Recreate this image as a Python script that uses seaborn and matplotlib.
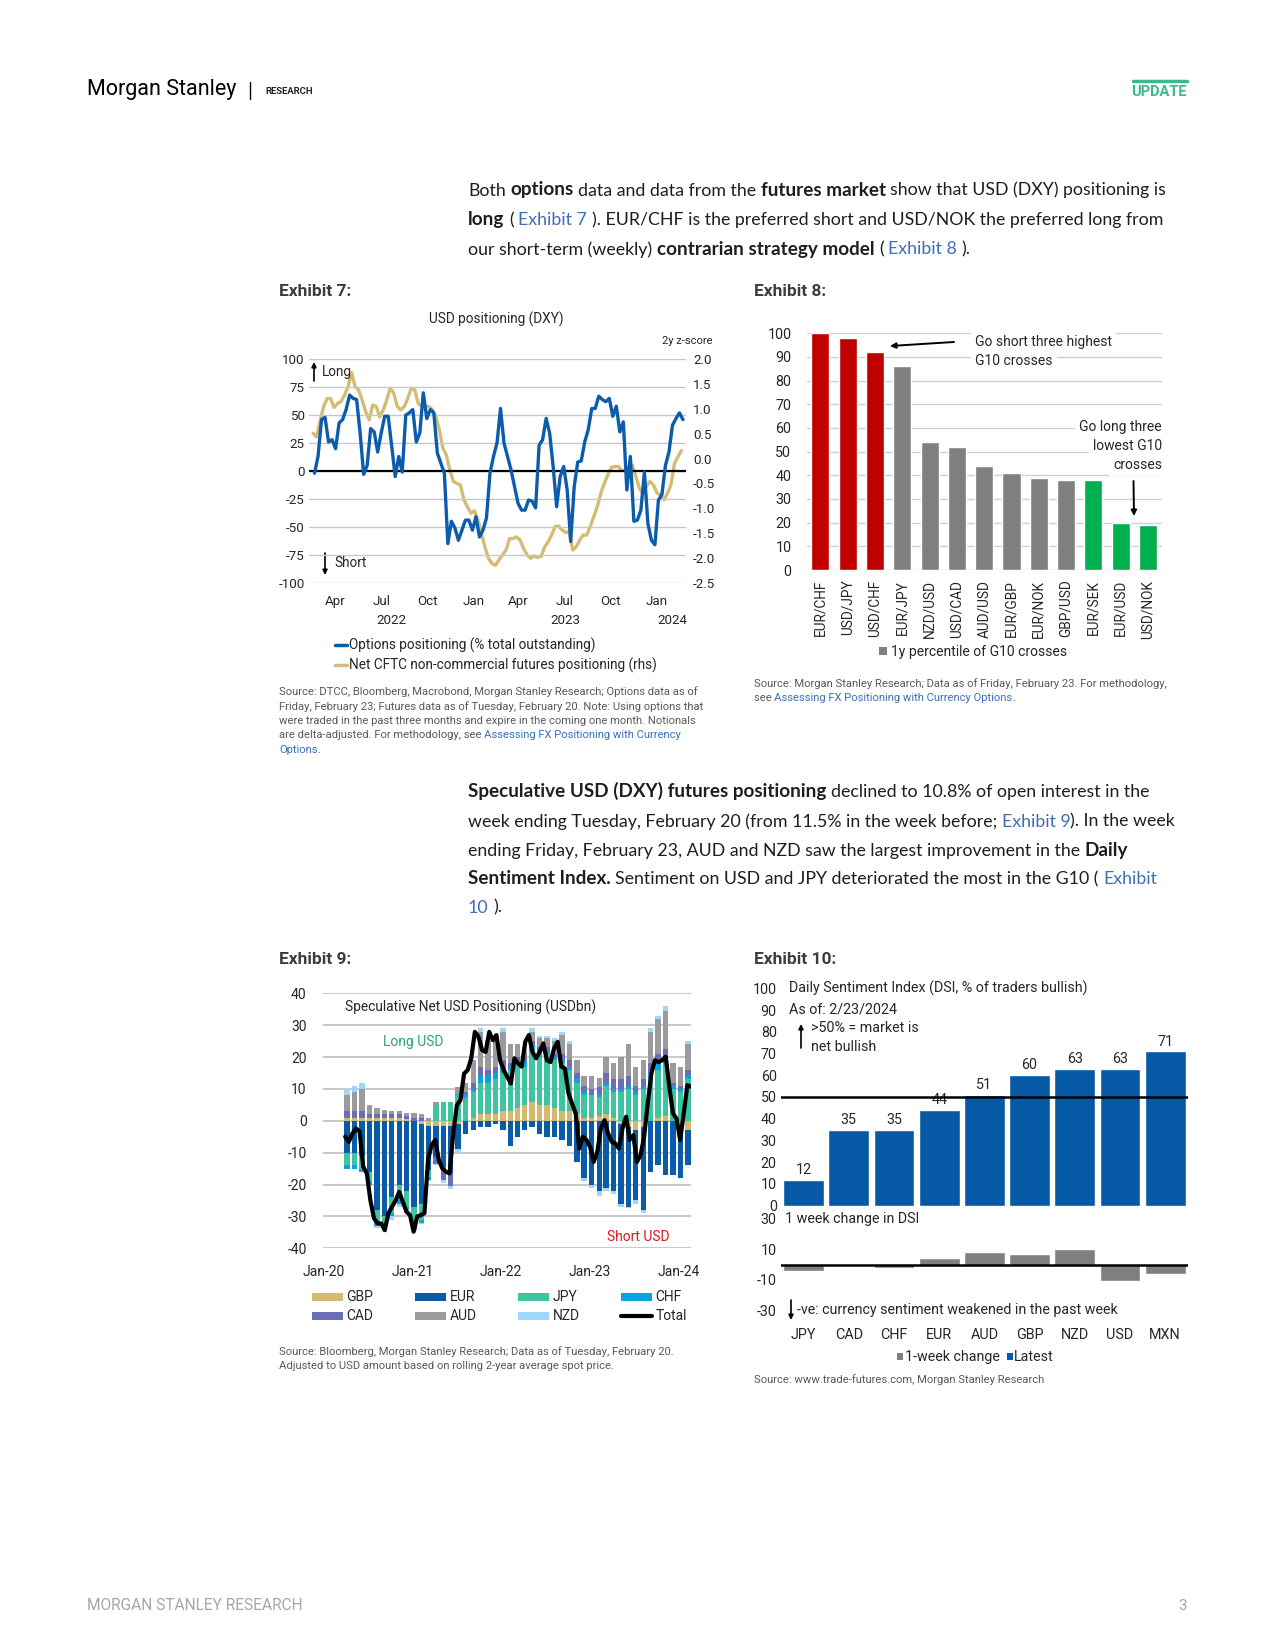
import numpy as np
import pandas as pd
import matplotlib
matplotlib.use('Agg')
import matplotlib.pyplot as plt
from matplotlib.patches import FancyArrowPatch, Rectangle
from matplotlib.lines import Line2D
import seaborn as sns

W, H = 1275, 1650

# Exhibit 7: weekly options positioning (% total outstanding) and CFTC z-score (rhs)
opt_pos = [-2, 13, 46, 48, 26, 28, 20, 43, 46, 55, 68, 65, 64, 34, -3, 5, 38, 35, 17, 34,
           49, 49, 22, -5, 13, -1, 50, 52, 55, 26, 34, 70, 47, 55, 52, 16, 7, -2, -65, -45,
           -51, -62, -53, -44, -44, -53, -41, -59, -53, -42, -2, 13, 25, 56, 25, 13, 1, -14, -29, -35,
           -35, -26, -27, -33, 23, 28, 47, 34, 4, -32, -5, 4, -17, -63, -14, 8, 9, 26, 37, 56,
           56, 67, 64, 62, 65, 49, 58, 35, 44, -17, 13, -45, -44, -35, -1, -47, -62, -66, -26, -21,
           5, 17, 41, 47, 52, 46]
cftc_z = [0.51, 0.44, 0.75, 1.04, 1.21, 1.21, 1.03, 1.11, 1.15, 1.28, 1.45, 1.73, 1.45, 1.38, 1.18,
          0.95, 0.78, 1.08, 1.05, 0.84, 0.98, 1.18, 1.42, 1.32, 1.05, 0.98, 1.05, 1.21, 1.42, 1.38,
          1.11, 1.05, 1.06, 1.05, 0.99, 0.84, 0.58, 0.21, 0.07, -0.23, -0.46, -0.50, -0.53, -0.83, -0.97,
          -1.10, -1.05, -1.24, -1.51, -1.78, -2.01, -2.11, -2.15, -2.04, -1.94, -1.84, -1.61, -1.61, -1.58, -1.64,
          -1.81, -1.94, -2.01, -1.96, -1.99, -1.97, -1.78, -1.68, -1.54, -1.37, -1.36, -1.44, -1.49, -1.47, -1.84,
          -1.78, -1.64, -1.54, -1.54, -1.37, -1.17, -0.97, -0.70, -0.50, -0.33, -0.18, -0.16, -0.16, -0.24, -0.23,
          -0.16, -0.13, -0.36, -0.60, -0.70, -0.56, -0.46, -0.53, -0.69, -0.73, -0.83, -0.70, -0.53, -0.10, 0.04,
          0.16]
ex7_months = ['2022-04-01', '2022-07-01', '2022-10-01', '2023-01-01',
              '2023-04-01', '2023-07-01', '2023-10-01', '2024-01-01']
ex7_month_labels = ['Apr', 'Jul', 'Oct', 'Jan', 'Apr', 'Jul', 'Oct', 'Jan']

# Exhibit 8: 1y percentile of G10 crosses
pairs = ['EUR/CHF', 'USD/JPY', 'USD/CHF', 'EUR/JPY', 'NZD/USD', 'USD/CAD', 'AUD/USD',
         'EUR/GBP', 'EUR/NOK', 'GBP/USD', 'EUR/SEK', 'EUR/USD', 'USD/NOK']
pctile = [100, 98, 92, 86, 54, 52, 44, 41, 39, 38, 38, 20, 19]
signal = ['short'] * 3 + ['none'] * 7 + ['long'] * 3

# Exhibit 9: monthly net USD positioning by currency (USDbn), Apr-2020 .. Feb-2024
ccy9 = ['GBP', 'EUR', 'JPY', 'CHF', 'CAD', 'AUD', 'NZD']
gbp = [1, 1, 1, 1, 1, 1, 1, 1, 0.5, 0, -1, -1.5, -1.5, -1.5, -1.5, -1, 0, 1, 2, 2, 2, 3, 3, 4,
       5, 6, 5, 5, 4, 3, 3, 2, 1, 1, 1.5, 2, 1, -1, -2, -3, -2, 0, 1, 1.5, 0, -2, -3]
eur = [-10, -10, -11, -16, -28, -30, -24, -20, -22, -27, -25, -14, -10, -13, -15, -8, -4, -3, -2, -2,
       -1, -3, -8, -5, -3, -2, -4, -5, -5, -6, -8, -13, -18, -20, -22, -21, -22, -25, -25, -22,
       -26, -16, -14, -17, -17, -16, -11]
jpy = [-4, -4, -4, -3, -4, -3, -5, -5, -5, -6, -5, -2, 5, 6, 6, 8, 7, 8, 10, 10, 11, 12, 13, 14,
       12, 16, 15, 16, 15, 15, 13, 10, 7, 7, 6, 9, 8, 9, 10, 8, 10, 13, 15, 16, 10, 9, 13]
chf = [-1, -1, -1, -1, -1, -1, -1, -1, -1, -1, -1, -1, 0, 0, 0, 0.5, 1, 1, 2, 2, 2, 2, 1, 1,
       2, 2, 2, 1, 1, 1, 1, 1, 1, 0, 1, 1, 1, 1, 1, 1, 1, 2, 2, 2, 1, 1, 1]
cad = [2, 2, 2, 1, 1, 1, 1, 1, 1, 1, 1, 0, -2, -4, -4, 0, 1, 2, 3, 2, 2, 2, 1, 1,
       1, 1, 1, 1, 1, 2, 2, 2, 2, 2, 2, 3, 3, 3, 3, 2, 2, 3, 3, 3, 1, 1, 2]
aud = [5, 6, 7, 3, 2, 1.5, 1, 1, 1, 1.5, 1, 1, 1, 0, 0, 2, 3, 7, 11, 9, 9, 9, 6, 4,
       2, 3, 3, 3, 4, 6, 5, 4, 3, 4, 3, 5, 5, 7, 10, 6, 6, 10, 11, 12, 6, 6, 8]
nzd = [2, 2, 2, 0, -0.5, -1, -1, -1, -1, -0.5, -0.5, -0.5, -0.5, -1, -1, -1, 0, 0, 1, 0.5, 1, 1, 0, 0,
       1, 1, 0.5, 0.5, 1, 1, 1, 0, -1, -1, -1.5, -1, -1, -1, -0.5, -1, -1, 1, 1, 1.5, 0, 0, 1]
total9 = [-5, -6.6, -4, -2.4, -3.4, -14.4, -16.5, -25, -30.6, -32.2, -32.2, -34.3, -29, -27, -25,
          -22.3, -25.4, -28.5, -29.6, -34.8, -30, -29.6, -29, -12.3, -7.6, -6, -12.3, -15, -16, -16.5,
          -4, 4.9, 6.5, 14.8, 15.9, 19.6, 27.9, 26.4, 22.2, 21.6, 27.9, 25.3, 26.9, 19, 15.9,
          13.8, 11.7, 19.6, 18, 17, 24.8, 26.9, 21.6, 19.6, 21.6, 24.3, 19, 18.4, 22.7, 24.8,
          17, 16.4, 8.6, 5.4, 2.3, -8.7, -5, -6, -8.2, -12.9, -9.7, -2.4, 0.2, -4, -6.6,
          -7.1, -8.7, -2.4, 1.3, -6, -4.5, -12.9, -10.8, -5, 5.4, 14.8, 19, 18.4, 19, 20.1,
          10.7, 2.3, 0.7, -6, 2.3, 11.2, 10.7]
ex9_years = ['2020-01-01', '2021-01-01', '2022-01-01', '2023-01-01', '2024-01-01']
ex9_year_labels = ['Jan-20', 'Jan-21', 'Jan-22', 'Jan-23', 'Jan-24']

# Exhibit 10: Daily Sentiment Index
dsi_ccy = ['JPY', 'CAD', 'CHF', 'EUR', 'AUD', 'GBP', 'NZD', 'USD', 'MXN']
dsi_latest = [12, 35, 35, 44, 51, 60, 63, 63, 71]
dsi_change = [-4, -1, -2, 4, 8, 7, 10, -11, -6]

# colours
BLUE7, GOLD7 = '#0B5CAD', '#D4BC74'
RED8, GRAY8, GREEN8 = '#C00000', '#808080', '#00B050'
C9 = {'GBP': '#D5BA6E', 'EUR': '#0A5CA8', 'JPY': '#3EC4A0', 'CHF': '#0BA3E2',
      'CAD': '#6C6DB9', 'AUD': '#9B9B9F', 'NZD': '#9DD8FC'}
BLUE10, GRAY10 = '#0559A5', '#7F7F7F'
LINK = '#3D6FB6'
GRID = '#C8C8C8'
CF = 'Roboto'
BF = 'Lato'

sns.set_style('white')
plt.rcParams['font.family'] = [CF, 'DejaVu Sans']
plt.rcParams['axes.unicode_minus'] = False

fig = plt.figure(figsize=(W / 100, H / 100), dpi=100)
renderer = fig.canvas.get_renderer()


def px_ax(l, t, r, b):
    ax = fig.add_axes([l / W, 1 - b / H, (r - l) / W, (b - t) / H])
    ax.patch.set_visible(False)
    for s in ax.spines.values():
        s.set_visible(False)
    return ax


def ftext(x, y, s, **kw):
    kw.setdefault('va', 'center')
    return fig.text(x / W, 1 - y / H, s, **kw)


def farrow(x0, y0, x1, y1, lw=1.2, head=8, style='-|>'):
    fig.add_artist(FancyArrowPatch((x0 / W, 1 - y0 / H), (x1 / W, 1 - y1 / H),
                                   transform=fig.transFigure, arrowstyle=style,
                                   mutation_scale=head, lw=lw, color='black',
                                   shrinkA=0, shrinkB=0))


def frect(x, y, w, h, c):
    fig.add_artist(Rectangle((x / W, 1 - (y + h) / H), w / W, h / H,
                             transform=fig.transFigure, color=c, lw=0))


def text_w(s, **kw):
    t = fig.text(0, 0, s, **kw)
    w = t.get_window_extent(renderer).width
    t.remove()
    return w


BOLD_K = 1.06


def rich_line(x, y, runs, size, family, draw=True):
    cx = x
    for s, style in runs:
        kw = dict(fontsize=size * (BOLD_K if style == 'b' else 1), family=family,
                  fontweight='bold' if style == 'b' else 'normal')
        sp = text_w('n n', **kw) - text_w('nn', **kw)
        core = s.strip(' ')
        cx += (len(s) - len(s.lstrip(' '))) * sp
        col = LINK if style == 'l' else '#1E1E1E'
        if draw:
            t = ftext(cx, y, core, color=col, va='baseline', ha='left', **kw)
            cx += t.get_window_extent(renderer).width
        else:
            cx += text_w(core, **kw)
        cx += (len(s) - len(s.rstrip(' '))) * sp
    return cx - x


# ---------------- header / footer ----------------
ftext(87, 90, 'Morgan Stanley', fontsize=15.5, family=CF, color='black')
fig.add_artist(Line2D([250 / W, 250 / W], [1 - 82 / H, 1 - 99 / H], transform=fig.transFigure,
                      color='black', lw=1))
ftext(265, 91, 'RESEARCH', fontsize=6.8, family=CF, fontweight='bold', color='#222222')
fig.add_artist(Line2D([1133 / W, 1187 / W], [1 - 81 / H, 1 - 81 / H], transform=fig.transFigure,
                      color='#3CB98A', lw=2.5))
ftext(1187, 92, 'UPDATE', fontsize=10.5, family=CF, fontweight='bold', color='#3CB98A', ha='right')
ftext(87, 1606, 'MORGAN STANLEY RESEARCH', fontsize=11.2, family=CF, color='#A6A6A6')
ftext(1187, 1606, '3', fontsize=11, family=CF, color='#A6A6A6', ha='right')

# ---------------- body text ----------------
para1 = [
    [('Both ', 'n'), ('options', 'b'), (' data and data from the ', 'n'), ('futures market', 'b'),
     (' show that USD (DXY) positioning is', 'n')],
    [('long', 'b'), (' ( ', 'n'), ('Exhibit 7', 'l'),
     (' ). EUR/CHF is the preferred short and USD/NOK the preferred long from', 'n')],
    [('our short-term (weekly) ', 'n'), ('contrarian strategy model', 'b'), (' ( ', 'n'),
     ('Exhibit 8', 'l'), (' ).', 'n')],
]
para2 = [
    [('Speculative USD (DXY) futures positioning', 'b'), (' declined to 10.8% of open interest in the', 'n')],
    [('week ending Tuesday, February 20 (from 11.5% in the week before; ', 'n'), ('Exhibit 9', 'l'),
     ('). In the week', 'n')],
    [('ending Friday, February 23, AUD and NZD saw the largest improvement in the ', 'n'), ('Daily', 'b')],
    [('Sentiment Index.', 'b'), (' Sentiment on USD and JPY deteriorated the most in the G10 ( ', 'n'),
     ('Exhibit', 'l')],
    [('10', 'l'), (' ).', 'n')],
]
body_size = 12 * 707 / rich_line(0, 0, para2[1], 12, BF, draw=False)
for runs, yb in zip(para1, [195.5, 225, 254.5]):
    rich_line(468, yb, runs, body_size, BF)
for runs, yb in zip(para2, [797, 826.6, 856, 884.4, 912.8]):
    rich_line(468, yb, runs, body_size, BF)

# exhibit headers
for x, y, s in [(279, 291, 'Exhibit 7:'), (754, 291, 'Exhibit 8:'),
                (279, 960, 'Exhibit 9:'), (754, 960, 'Exhibit 10:')]:
    ftext(x, y, s, fontsize=12.5, fontweight='bold', color='#3C3C3C')


def source(x, y, lines, size=8.1):
    for i, runs in enumerate(lines):
        cx = x
        for s, style in runs:
            t = ftext(cx, y + i * 14.4, s, fontsize=size, color=LINK if style == 'l' else '#595959',
                      ha='left')
            cx += t.get_window_extent(renderer).width


# ---------------- Exhibit 7 ----------------
ax7 = px_ax(309, 359.3, 686, 582.7)
ax7r = ax7.twinx()
for s in ax7r.spines.values():
    s.set_visible(False)
ax7.set_zorder(3)
ax7r.set_zorder(2)
d_opt = pd.date_range(end='2024-02-23', periods=len(opt_pos), freq='W-FRI')
d_cftc = pd.date_range(end='2024-02-20', periods=len(cftc_z), freq='W-TUE')
ax7.yaxis.grid(True, color=GRID, lw=1)
ax7.axhline(0, color='black', lw=1.6, zorder=1)
sns.lineplot(x=d_cftc, y=cftc_z, ax=ax7r, color=GOLD7, lw=2.4)
sns.lineplot(x=d_opt, y=opt_pos, ax=ax7, color=BLUE7, lw=2.4, zorder=5)
ax7.set_ylim(-100, 100)
ax7r.set_ylim(-2.5, 2.0)
ax7.set_yticks(range(-100, 101, 25))
zt = np.arange(-2.5, 2.01, 0.5)
ax7r.set_yticks(zt)
ax7r.set_yticklabels([f'{v:.1f}' for v in zt])
ax7.set_xlim(pd.Timestamp('2022-02-07'), pd.Timestamp('2024-02-29'))
ax7.set_xticks([pd.Timestamp(m) for m in ex7_months])
ax7.set_xticklabels(ex7_month_labels)
ax7.tick_params(axis='y', length=0, labelsize=9.6, pad=3)
ax7.tick_params(axis='x', length=0, labelsize=9.6, pad=9)
ax7r.tick_params(axis='y', length=0, labelsize=9.6, pad=5)
ax7r.grid(False)
ax7.set_xlabel('')
for x, s in [(391, '2022'), (565, '2023'), (672, '2024')]:
    ftext(x, 621, s, fontsize=9.6, ha='center')
ftext(496, 319, 'USD positioning (DXY)', fontsize=9.8, ha='center')
ftext(712, 341, '2y z-score', fontsize=8, ha='right')
farrow(314, 381, 314, 362, lw=1.2, head=7)
ftext(322, 372, 'Long', fontsize=9.8)
farrow(325, 553, 325, 575, lw=1.2, head=7)
ftext(334, 563, 'Short', fontsize=9.8)
fig.add_artist(Line2D([335 / W, 347 / W], [1 - 645 / H] * 2, transform=fig.transFigure, color=BLUE7, lw=2.5))
fig.add_artist(Line2D([335 / W, 347 / W], [1 - 665 / H] * 2, transform=fig.transFigure, color=GOLD7, lw=2.5))
ftext(349, 645, 'Options positioning (% total outstanding)', fontsize=9.8)
ftext(349, 665, 'Net CFTC non-commercial futures positioning (rhs)', fontsize=9.8)
source(279, 692, [
    [('Source: DTCC, Bloomberg, Macrobond, Morgan Stanley Research; Options data as of', 'n')],
    [('Friday, February 23; Futures data as of Tuesday, February 20. Note: Using options that', 'n')],
    [('were traded in the past three months and expire in the coming one month. Notionals', 'n')],
    [('are delta-adjusted. For methodology, see ', 'n'), ('Assessing FX Positioning with Currency', 'l')],
    [('Options', 'l'), ('.', 'n')],
])

# ---------------- Exhibit 8 ----------------
ax8 = px_ax(806.7, 333.3, 1161.7, 570)
sig_col = {'short': RED8, 'none': GRAY8, 'long': GREEN8}
sns.barplot(x=pairs, y=pctile, hue=pairs, palette=[sig_col[s] for s in signal], legend=False,
            width=0.66, saturation=1, ax=ax8, zorder=3)
ax8.set_ylim(0, 100)
ax8.set_xlim(-0.5, len(pairs) - 0.5)
ax8.set_yticks(range(0, 101, 10))
ax8.yaxis.grid(True, color='#D0D0D0', lw=1, zorder=0)
ax8.set_axisbelow(True)
ax8.tick_params(axis='y', length=0, labelsize=10.3, pad=11)
ax8.tick_params(axis='x', length=0, labelsize=9.8, pad=7, rotation=90)
ax8.set_xlabel('')
ax8.set_ylabel('')
wb = dict(fc='white', ec='none', pad=3)
ftext(975, 342, 'Go short three highest', fontsize=10, ha='left', bbox=wb, zorder=5)
ftext(975, 361, 'G10 crosses', fontsize=10, ha='left', bbox=wb, zorder=5)
for y, s in [(427, 'Go long three'), (446, 'lowest G10'), (465, 'crosses')]:
    ftext(1162, y, s, fontsize=10, ha='right', bbox=wb, zorder=5)
farrow(954, 342, 890, 346, lw=1.4, head=8)
farrow(1133.5, 481, 1134, 516, lw=1.4, head=8)
frect(879, 647.5, 8, 8, GRAY8)
ftext(891, 652, '1y percentile of G10 crosses', fontsize=10)
source(754, 684, [
    [('Source: Morgan Stanley Research; Data as of Friday, February 23. For methodology,', 'n')],
    [('see ', 'n'), ('Assessing FX Positioning with Currency Options', 'l'), ('.', 'n')],
])

# ---------------- Exhibit 9 ----------------
ax9 = px_ax(323.3, 993.3, 690.7, 1248.3)
m9 = pd.date_range('2020-04-01', periods=len(eur), freq='MS') + pd.Timedelta(days=7)
comp = pd.DataFrame({'GBP': gbp, 'EUR': eur, 'JPY': jpy, 'CHF': chf, 'CAD': cad,
                     'AUD': aud, 'NZD': nzd}, index=m9)
pos_base = np.zeros(len(comp))
neg_base = np.zeros(len(comp))
for c in ccy9:
    v = comp[c].to_numpy(dtype=float)
    base = np.where(v >= 0, pos_base, neg_base)
    ax9.bar(comp.index, v, bottom=base, width=22, color=C9[c], lw=0, zorder=2)
    pos_base += np.clip(v, 0, None)
    neg_base += np.clip(v, None, 0)
d_tot = pd.date_range('2020-03-31', '2024-02-20', periods=len(total9))
sns.lineplot(x=d_tot, y=total9, ax=ax9, color='black', lw=3, zorder=4)
ax9.set_ylim(-40, 40)
ax9.set_yticks(range(-40, 41, 10))
ax9.yaxis.grid(True, color='#BFBFBF', lw=1.2, zorder=0)
ax9.set_axisbelow(True)
ax9.set_xlim(pd.Timestamp('2020-01-01'), pd.Timestamp('2024-02-19'))
ax9.set_xticks([pd.Timestamp(d) for d in ex9_years])
ax9.set_xticklabels(ex9_year_labels)
ax9.tick_params(axis='y', length=0, labelsize=10, pad=12)
ax9.tick_params(axis='x', length=0, labelsize=10, pad=12)
ax9.set_xlabel('')
ftext(345, 1007, 'Speculative Net USD Positioning (USDbn)', fontsize=9.9)
ftext(413, 1042, 'Long USD', fontsize=10, ha='center', color='#2EA27C')
ftext(670, 1237, 'Short USD', fontsize=10, ha='right', color='#D7191C')
leg_x = [311.7, 415, 518.3, 621]
leg_items = [['GBP', 'EUR', 'JPY', 'CHF'], ['CAD', 'AUD', 'NZD', 'Total']]
for row, y in zip(leg_items, [1297.3, 1316]):
    for x, name in zip(leg_x, row):
        if name == 'Total':
            fig.add_artist(Line2D([x / W, (x + 31) / W], [1 - y / H] * 2, transform=fig.transFigure,
                                  color='black', lw=3))
        else:
            frect(x, y - 4, 31, 8, C9[name])
        ftext(x + 34.5, y, name, fontsize=10)
source(279, 1352, [
    [('Source: Bloomberg, Morgan Stanley Research; Data as of Tuesday, February 20.', 'n')],
    [('Adjusted to USD amount based on rolling 2-year average spot price.', 'n')],
])

# ---------------- Exhibit 10 ----------------
ax10 = px_ax(781, 988.3, 1187.8, 1205.7)
sns.barplot(x=dsi_ccy, y=dsi_latest, color=BLUE10, width=0.9, saturation=1, ax=ax10, zorder=2)
ax10.bar_label(ax10.containers[0], fmt='%d', padding=2, fontsize=10.3)
ax10.axhline(50, color='black', lw=1.8, zorder=3)
ax10.set_ylim(0, 100)
ax10.set_xlim(-0.5, len(dsi_ccy) - 0.5)
ax10.set_yticks(range(0, 101, 10))
ax10.tick_params(axis='y', length=0, labelsize=10.3, pad=3)
ax10.tick_params(axis='x', length=0, labelbottom=False)
ax10.set_ylabel('')

ax10b = px_ax(781, 1219, 1187.8, 1310)
sns.barplot(x=dsi_ccy, y=dsi_change, color=GRAY10, width=0.9, saturation=1, ax=ax10b, zorder=2)
ax10b.axhline(0, color='black', lw=1.8, zorder=3)
ax10b.set_ylim(-30, 30)
ax10b.set_xlim(-0.5, len(dsi_ccy) - 0.5)
ax10b.set_yticks([-30, -10, 10, 30])
ax10b.tick_params(axis='y', length=0, labelsize=10.3, pad=3)
ax10b.tick_params(axis='x', length=0, labelsize=10.4, pad=13)
ax10b.set_ylabel('')

ftext(789, 988, 'Daily Sentiment Index (DSI, % of traders bullish)', fontsize=10.3)
ftext(789, 1010, 'As of: 2/23/2024', fontsize=10.3)
farrow(801, 1048, 801, 1024, lw=1.2, head=7)
ftext(811, 1028, '>50% = market is', fontsize=10.3)
ftext(811, 1047, 'net bullish', fontsize=10.3)
ftext(785, 1219, '1 week change in DSI', fontsize=10.3)
farrow(791, 1300, 791, 1320, lw=1.2, head=7)
ftext(797, 1310, '-ve: currency sentiment weakened in the past week', fontsize=10.3)
frect(896.5, 1353, 6, 7, GRAY10)
ftext(905, 1357, '1-week change', fontsize=10.3)
frect(1006.5, 1353, 6, 7, BLUE10)
ftext(1014, 1357, 'Latest', fontsize=10.3)
source(754, 1380, [[('Source: www.trade-futures.com, Morgan Stanley Research', 'n')]])

fig.savefig('out.png', dpi=100)
